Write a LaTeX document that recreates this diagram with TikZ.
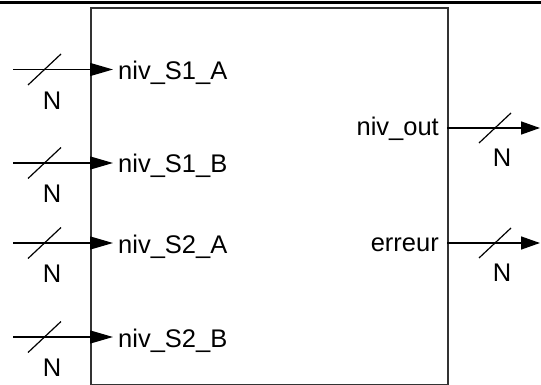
\documentclass[tikz,border=0pt]{standalone}
\usepackage{fontspec}
\setmainfont{Liberation Sans}
\usetikzlibrary{arrows.meta}
\begin{document}
\begin{tikzpicture}[x=1pt,y=-1pt,
  lbl/.style={inner sep=0pt,font=\fontsize{25.5}{30}\selectfont},
  bus/.style={line width=1.4pt,black},
  busarrow/.style={bus,-{Triangle[length=23pt,width=13pt]}},
  outarrow/.style={bus,-{Triangle[length=19pt,width=13pt]}},
  slash/.style={line width=1.2pt,black},
  boxline/.style={line width=1.6pt,draw=black!80}]
\useasboundingbox (0,0) rectangle (541,385);
% top rule
\draw[line width=2.2pt] (0,2.5) -- (541,2.5);
% block
\node[boxline,draw,minimum width=357pt,minimum height=377pt,anchor=north west,inner sep=0pt] (blk) at (90,7) {};
\draw[line width=1.6pt,black!50] (blk.south west) -- (blk.south east);
% inputs
\foreach \y/\name/\t in {69.5/a/niv\_S1\_A,163/b/niv\_S1\_B,243/c/niv\_S2\_A,337/d/niv\_S2\_B}{
  \coordinate (s\name) at (13,\y);
  \coordinate (t\name) at (113,\y);
  \draw[busarrow] (s\name) -- (t\name);
  \coordinate (m\name) at (44.5,\y);
  \draw[slash] ([shift={(-16.5,15.5)}]m\name) -- ([shift={(16.5,-15.5)}]m\name);
  \node[lbl,anchor=base west] (l\name) at (118,\y+10) {\t};
  \node[lbl] (n\name) at (52,\y+31) {N};
}
% outputs
\foreach \y/\name/\t in {128/o/niv\_out,243/e/erreur}{
  \coordinate (p\name) at (447,\y);
  \coordinate (q\name) at (540,\y);
  \draw[outarrow] (p\name) -- (q\name);
  \coordinate (m\name) at (495,\y);
  \draw[slash] ([shift={(-16,15)}]m\name) -- ([shift={(16,-15)}]m\name);
  \node[lbl,anchor=base east] (l\name) at (439,\y+8) {\t};
  \node[lbl] (n\name) at (502,\y+30) {N};
}
\end{tikzpicture}
\end{document}
